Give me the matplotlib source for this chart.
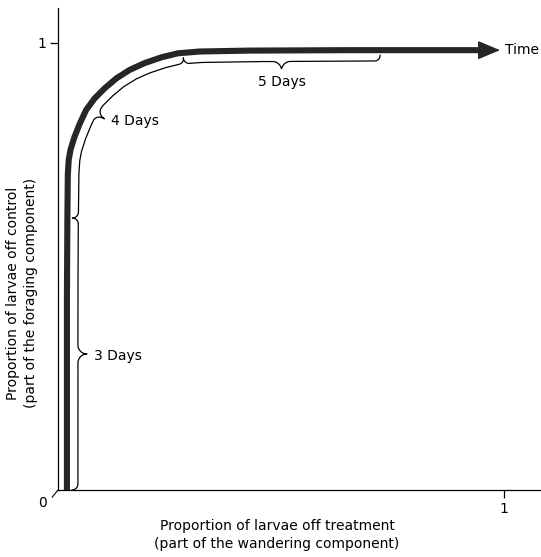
import numpy as np
import matplotlib
matplotlib.use("Agg")
import matplotlib.pyplot as plt

# path of the population through time (treatment proportion, control proportion)
treat_x = [0.020, 0.020, 0.021, 0.022, 0.024, 0.028, 0.037, 0.049, 0.063, 0.082,
           0.105, 0.131, 0.161, 0.194, 0.232, 0.269, 0.318, 0.430, 0.655, 0.946]
control_y = [0.000, 0.425, 0.604, 0.705, 0.738, 0.761, 0.790, 0.820, 0.850, 0.876,
             0.899, 0.921, 0.940, 0.955, 0.968, 0.977, 0.981, 0.983, 0.984, 0.984]
arrow_tip = (0.991, 0.984)

# day spans marked along the path: boundaries (x, y) on the curve
day_labels = ["3 Days", "4 Days", "5 Days"]
day_bounds = [(0.020, 0.000), (0.021, 0.608), (0.280, 0.978), (0.722, 0.984)]

xlabel = "Proportion of larvae off treatment\n(part of the wandering component)"
ylabel = "Proportion of larvae off control\n(part of the foraging component)"

plt.rcParams['font.family'] = ['DejaVu Sans']

fig = plt.figure(figsize=(5.41, 5.57), dpi=100)
ax = fig.add_axes([58 / 541, 67 / 557, 483 / 541, 482 / 557])
ax.set_xlim(0, 483 / 446)
ax.set_ylim(0, 482 / 447)

for side in ['top', 'right']:
    ax.spines[side].set_visible(False)
for side in ['left', 'bottom']:
    ax.spines[side].set_linewidth(0.9)
ax.set_xticks([1])
ax.set_yticks([1])
ax.set_xticklabels(['1'])
ax.set_yticklabels(['1'])
ax.tick_params(direction='out', length=5.5, width=0.9, labelsize=10, pad=3)

# main trajectory
curve_col = '#262626'
ax.plot(treat_x, control_y, color=curve_col, lw=4.4, solid_capstyle='butt',
        solid_joinstyle='round')
ax.annotate('', xy=arrow_tip, xytext=(treat_x[-1], control_y[-1]),
            arrowprops=dict(arrowstyle='-|>,head_length=1.0,head_width=0.42',
                            mutation_scale=14, lw=1, color=curve_col,
                            shrinkA=0, shrinkB=0))
ax.text(arrow_tip[0] + 0.012, arrow_tip[1], 'Time', fontsize=10,
        va='center', ha='left', clip_on=False)


def brace_along(P, off=11.0, r=6.0, rt=9.0):
    # P: display points along the curve, evenly spaced
    d = np.gradient(P, axis=0)
    k = np.ones(31) / 31
    d = np.column_stack([np.convolve(d[:, 0], k, 'same'),
                         np.convolve(d[:, 1], k, 'same')])
    d /= np.linalg.norm(d, axis=1)[:, None]
    nrm = np.column_stack([d[:, 1], -d[:, 0]])
    s = np.concatenate([[0], np.cumsum(np.linalg.norm(np.diff(P, axis=0), axis=1))])
    L = s[-1]
    f = np.zeros_like(s)
    a = s < r
    f[a] = -(r - np.sqrt(r ** 2 - (r - s[a]) ** 2))
    b = (L - s) < r
    f[b] = -(r - np.sqrt(r ** 2 - (r - (L - s[b])) ** 2))
    u = np.abs(s - L / 2)
    c = u < rt
    f[c] = rt - np.sqrt(rt ** 2 - (rt - u[c]) ** 2)
    pts = P + nrm * (off + f)[:, None]
    mid = np.argmin(np.abs(s - L / 2))
    return pts, pts[mid], nrm[mid]


# dense version of the curve in pixels (geometry only, for the braces)
disp = ax.transData.transform(np.column_stack([treat_x, control_y]))
seg = np.linalg.norm(np.diff(disp, axis=0), axis=1)
cum = np.concatenate([[0], np.cumsum(seg)])
ss = np.arange(0, cum[-1], 0.5)
dense = np.column_stack([np.interp(ss, cum, disp[:, 0]), np.interp(ss, cum, disp[:, 1])])
bnd = ax.transData.transform(np.array(day_bounds))
idx = [int(np.argmin(np.linalg.norm(dense - p, axis=1))) for p in bnd]

inv = ax.transData.inverted()
for i, lab in enumerate(day_labels):
    P = dense[idx[i]:idx[i + 1] + 1]
    pts, tip, n = brace_along(P)
    dp = inv.transform(pts)
    ax.plot(dp[:, 0], dp[:, 1], color='black', lw=0.9, solid_capstyle='round')
    if abs(n[1]) > abs(n[0]) * 1.5:
        tx, ty = inv.transform(tip + n * 7)
        ax.text(tx, ty, lab, fontsize=10, ha='center', va='top')
    else:
        tx, ty = inv.transform(tip + np.array([7, -2]))
        ax.text(tx, ty, lab, fontsize=10, ha='left', va='center')

# origin mark
ax.plot([0, -0.013], [0, -0.016], color='black', lw=0.8, clip_on=False)
ax.text(-0.034, -0.029, '0', fontsize=10, ha='center', va='center')

fig.text(277 / 541, 1 - 535 / 557, xlabel, ha='center', va='center',
         fontsize=10, linespacing=1.35)
fig.text(22 / 541, 1 - 293 / 557, ylabel, ha='center', va='center',
         fontsize=10, rotation=90, linespacing=1.35)

fig.savefig('out.png', dpi=100)
